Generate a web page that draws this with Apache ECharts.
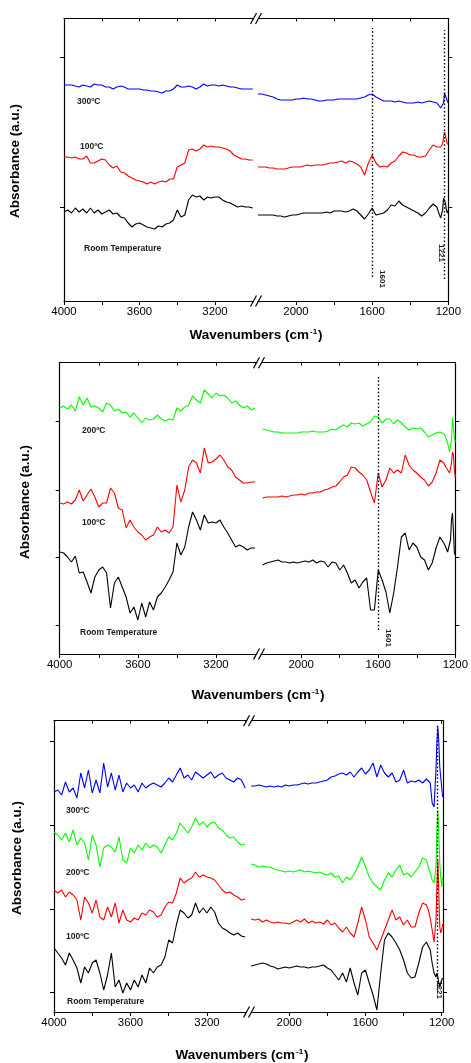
<!DOCTYPE html>
<html><head><meta charset="utf-8">
<script src="https://cdn.jsdelivr.net/npm/echarts@6/dist/echarts.min.js"></script>
<style>html,body{margin:0;padding:0;background:#fff}#c{width:471px;height:1063px}</style>
</head><body><div id="c"></div>
<script>
// ---------- wavenumber grids (cm-1) ----------
const wnLeft = [4000,3980,3960,3940,3920,3900,3880,3860,3840,3820,3800,3780,3760,3740,3720,3700,3680,3660,3640,3620,3600,3580,3560,3540,3520,3500,3480,3460,3440,3420,3400,3380,3360,3340,3320,3300,3280,3260,3240,3220,3200,3180,3160,3140,3120,3100,3080,3060,3040,3020,3000];
const wnRight = [2200,2180,2160,2140,2120,2100,2080,2060,2040,2020,2000,1980,1960,1940,1920,1900,1880,1860,1840,1820,1800,1780,1760,1740,1720,1700,1680,1660,1640,1620,1600,1580,1560,1540,1520,1500,1480,1460,1440,1420,1400,1380,1360,1340,1320,1300,1280,1270,1260,1250,1240,1230,1225,1220,1215,1210,1205,1200];
const wnRight3 = [2200,2180,2160,2140,2120,2100,2080,2060,2040,2020,2000,1980,1960,1940,1920,1900,1880,1860,1840,1820,1800,1780,1760,1740,1720,1700,1680,1660,1640,1620,1600,1580,1560,1540,1520,1500,1480,1460,1440,1420,1400,1380,1360,1340,1320,1300,1280,1270,1260,1250,1240,1230,1225,1220,1215,1210,1205,1200,1195];

// ---------- tick labels ----------
const leftTicks = [4000,3800,3600,3400,3200,3000];
const leftLabels = [4000,3600,3200];
const rightTicks = [2000,1800,1600,1400,1200];
const rightLabels = [2000,1600,1200];

// ---------- Panel 1 (absorbance, a.u.) ----------
const p1BlueL = [2.16,2.16,2.16,2.15,2.14,2.16,2.15,2.14,2.17,2.16, 2.16,2.14,2.14,2.12,2.14,2.15,2.14,2.12,2.12,2.12, 2.12,2.11,2.11,2.10,2.10,2.09,2.08,2.10,2.10,2.12, 2.16,2.14,2.14,2.15,2.14,2.12,2.14,2.17,2.15,2.16, 2.16,2.15,2.16,2.15,2.14,2.14,2.13,2.12,2.12,2.12,2.12];
const p1RedL = [1.44,1.44,1.43,1.44,1.42,1.42,1.45,1.38,1.38,1.40, 1.42,1.41,1.36,1.33,1.35,1.29,1.28,1.25,1.23,1.21, 1.20,1.19,1.17,1.19,1.17,1.19,1.20,1.19,1.22,1.22, 1.34,1.36,1.38,1.51,1.52,1.50,1.52,1.56,1.54,1.55, 1.54,1.54,1.53,1.52,1.50,1.46,1.44,1.42,1.42,1.41,1.41];
const p1BlackL = [0.89,0.91,0.88,0.93,0.89,0.92,0.88,0.93,0.88,0.91, 0.87,0.89,0.91,0.87,0.88,0.84,0.83,0.78,0.74,0.77, 0.78,0.76,0.74,0.73,0.72,0.75,0.74,0.77,0.78,0.81, 0.91,0.84,0.86,1.01,1.06,1.04,1.05,1.01,1.04,1.03, 1.04,1.04,1.01,0.99,0.98,0.96,0.94,0.95,0.94,0.94,0.93];
const p1BlueR = [2.07,2.07,2.06,2.05,2.04,2.02,2.01,2.01,2.01,2.01, 2.02,2.02,2.03,2.02,2.02,2.01,2.00,2.00,2.01,2.01, 2.01,2.02,2.02,2.02,2.02,2.02,2.02,2.03,2.04,2.06, 2.07,2.04,2.02,2.00,2.00,2.00,1.99,2.00,1.99,1.98, 1.98,1.98,1.99,1.98,1.99,2.00,1.99, 1.99,1.98,1.98,1.93,1.92,1.98,2.08,2.09,2.06,2.00,1.98];
const p1RedR = [1.34,1.34,1.34,1.33,1.33,1.32,1.32,1.32,1.33,1.34, 1.34,1.34,1.35,1.36,1.35,1.36,1.36,1.36,1.37,1.38, 1.38,1.39,1.40,1.38,1.40,1.39,1.37,1.34,1.26,1.38, 1.46,1.38,1.34,1.35,1.34,1.38,1.40,1.45,1.49,1.48, 1.46,1.46,1.44,1.44,1.45,1.51,1.56, 1.56,1.54,1.55,1.54,1.57,1.64,1.69,1.67,1.61,1.57,1.57];
const p1BlackR = [0.86,0.86,0.86,0.86,0.86,0.85,0.85,0.84,0.85,0.86, 0.86,0.87,0.88,0.88,0.88,0.88,0.88,0.88,0.89,0.88, 0.90,0.90,0.90,0.89,0.90,0.92,0.90,0.86,0.82,0.87, 0.93,0.86,0.87,0.88,0.91,0.96,0.95,1.00,0.96,0.94, 0.92,0.90,0.88,0.85,0.88,0.93,0.97, 0.97,0.94,0.88,0.83,0.91,1.03,1.04,0.98,0.91,0.88,0.91];

// ---------- Panel 2 ----------
const p2GreenL = [2.46,2.48,2.45,2.49,2.43,2.57,2.49,2.56,2.47,2.48, 2.46,2.42,2.51,2.49,2.43,2.45,2.41,2.42,2.37,2.41, 2.36,2.31,2.36,2.34,2.35,2.39,2.35,2.33,2.35,2.34, 2.46,2.43,2.47,2.49,2.58,2.54,2.51,2.64,2.60,2.56, 2.61,2.58,2.59,2.56,2.51,2.53,2.49,2.46,2.48,2.44,2.46];
const p2RedL = [1.51,1.50,1.52,1.50,1.54,1.64,1.53,1.59,1.65,1.57, 1.47,1.51,1.51,1.66,1.61,1.46,1.44,1.26,1.34,1.27, 1.22,1.19,1.14,1.17,1.19,1.27,1.22,1.24,1.21,1.27, 1.69,1.52,1.64,1.87,1.94,1.91,1.81,2.06,1.91,1.92, 1.95,1.99,1.94,1.87,1.84,1.77,1.74,1.71,1.71,1.72,1.72];
const p2BlackL = [1.02,1.01,0.97,0.92,0.98,0.81,0.82,0.72,0.61,0.77, 0.84,0.87,0.81,0.46,0.71,0.77,0.67,0.57,0.41,0.47, 0.34,0.51,0.37,0.52,0.44,0.57,0.61,0.67,0.74,0.82, 1.11,0.99,1.07,1.27,1.42,1.34,1.24,1.39,1.31,1.32, 1.31,1.34,1.27,1.21,1.14,1.07,1.09,1.07,1.04,1.06,1.06];
const p2GreenR = [2.25,2.24,2.23,2.22,2.22,2.21,2.21,2.21,2.21,2.21, 2.22,2.22,2.22,2.23,2.22,2.22,2.22,2.23,2.25,2.24, 2.27,2.29,2.27,2.31,2.30,2.31,2.28,2.30,2.32,2.38, 2.37,2.31,2.35,2.35,2.30,2.34,2.31,2.27,2.24,2.26, 2.25,2.26,2.22,2.17,2.19,2.21,2.22, 2.21,2.20,2.17,2.11,2.02,2.04,2.14,2.36,2.34,2.16,2.12];
const p2RedR = [1.56,1.57,1.57,1.57,1.57,1.58,1.57,1.58,1.59,1.59, 1.60,1.59,1.61,1.61,1.62,1.62,1.64,1.65,1.67,1.68, 1.72,1.77,1.79,1.87,1.86,1.82,1.79,1.74,1.62,1.51, 1.81,1.67,1.74,1.86,1.81,1.84,1.81,1.99,1.89,1.84, 1.81,1.77,1.74,1.68,1.72,1.81,1.94, 1.95,1.91,1.87,1.86,1.81,1.81,1.91,2.02,1.99,1.84,1.77];
const p2BlackR = [0.89,0.91,0.92,0.93,0.94,0.92,0.92,0.91,0.92,0.91, 0.92,0.93,0.92,0.94,0.91,0.93,0.92,0.87,0.92,0.91, 0.84,0.89,0.81,0.71,0.74,0.66,0.72,0.76,0.44,0.44, 0.84,0.74,0.62,0.41,0.61,0.87,1.17,1.21,1.04,1.11, 1.07,0.97,0.94,0.84,0.91,1.06,1.17, 1.14,1.11,1.07,1.02,1.01,1.14,1.34,1.41,1.24,1.01,0.99];

// ---------- Panel 3 ----------
const p3BlueL = [2.20,2.22,2.17,2.30,2.20,2.24,2.14,2.39,2.24,2.42, 2.19,2.32,2.19,2.49,2.25,2.39,2.22,2.37,2.20,2.29, 2.24,2.27,2.20,2.29,2.24,2.27,2.29,2.27,2.25,2.29, 2.34,2.30,2.37,2.44,2.34,2.37,2.32,2.40,2.37,2.34, 2.37,2.40,2.34,2.37,2.39,2.34,2.32,2.30,2.34,2.32,2.24];
const p3GreenL = [1.80,1.77,1.72,1.79,1.70,1.82,1.67,1.74,1.69,1.52, 1.77,1.67,1.45,1.64,1.67,1.65,1.60,1.75,1.52,1.49, 1.64,1.59,1.67,1.62,1.69,1.64,1.67,1.65,1.59,1.67, 1.75,1.72,1.79,1.89,1.84,1.79,1.85,1.94,1.87,1.90, 1.85,1.89,1.90,1.84,1.82,1.77,1.74,1.75,1.70,1.67,1.68];
const p3RedL = [1.22,1.19,1.22,1.15,1.20,1.17,1.12,0.92,1.15,1.09, 0.99,1.12,0.95,0.92,1.05,0.95,1.09,0.89,1.02,0.92, 0.90,0.94,0.92,0.99,0.97,1.02,1.00,0.95,0.97,1.05, 1.10,1.09,1.19,1.34,1.29,1.32,1.34,1.40,1.35,1.37, 1.35,1.34,1.32,1.27,1.22,1.19,1.20,1.17,1.15,1.12,1.13];
const p3BlackL = [0.64,0.59,0.54,0.47,0.59,0.52,0.44,0.29,0.45,0.39, 0.49,0.52,0.39,0.22,0.37,0.59,0.25,0.32,0.19,0.29, 0.22,0.32,0.25,0.37,0.29,0.44,0.39,0.45,0.47,0.55, 0.72,0.69,0.87,1.02,0.99,0.94,0.97,1.09,0.99,1.04, 0.99,1.05,1.00,0.89,0.84,0.82,0.79,0.77,0.79,0.76,0.75];
const p3BlueR = [2.26,2.26,2.27,2.26,2.25,2.26,2.25,2.26,2.25,2.27, 2.26,2.27,2.27,2.28,2.29,2.28,2.29,2.29,2.30,2.31, 2.32,2.35,2.36,2.38,2.39,2.37,2.40,2.35,2.40,2.44, 2.38,2.42,2.49,2.35,2.47,2.39,2.35,2.39,2.30,2.32, 2.42,2.29,2.31,2.30,2.32,2.29,2.33, 2.34,2.29,2.09,2.05,2.42,2.70,2.85,2.70,2.45,2.35,2.25,2.15];
const p3GreenR = [1.48,1.47,1.45,1.46,1.45,1.45,1.43,1.42,1.41,1.40, 1.41,1.40,1.41,1.42,1.40,1.41,1.40,1.39,1.40,1.38, 1.37,1.39,1.35,1.36,1.29,1.35,1.32,1.38,1.45,1.55, 1.45,1.35,1.29,1.25,1.22,1.32,1.39,1.35,1.42,1.47, 1.37,1.39,1.35,1.40,1.45,1.54,1.52, 1.45,1.39,1.32,1.29,1.45,1.82,2.02,1.79,1.49,1.35,1.25,1.35];
const p3RedR = [0.93,0.92,0.93,0.90,0.92,0.90,0.89,0.90,0.89,0.89, 0.88,0.90,0.92,0.90,0.93,0.89,0.91,0.89,0.90,0.88, 0.92,0.87,0.89,0.84,0.80,0.85,0.79,0.75,0.89,1.05, 0.92,0.75,0.69,0.62,0.72,0.82,0.92,1.02,0.92,0.95, 0.87,0.92,0.85,0.85,0.99,1.09,1.07, 1.02,0.94,0.82,0.70,0.92,1.25,1.52,1.19,0.85,0.79,0.82,0.88];
const p3BlackR = [0.46,0.47,0.48,0.49,0.48,0.46,0.45,0.43,0.44,0.45, 0.44,0.45,0.46,0.45,0.45,0.44,0.45,0.45,0.46,0.47, 0.44,0.42,0.37,0.32,0.39,0.30,0.44,0.29,0.17,0.39, 0.42,0.29,0.17,0.02,0.39,0.72,0.79,0.75,0.69,0.62, 0.52,0.39,0.34,0.35,0.49,0.65,0.70, 0.69,0.62,0.49,0.39,0.35,0.39,0.35,0.29,0.25,0.27,0.32,0.34];

const BLUE = '#0000ff', RED = '#ff0000', GREEN = '#00ff00', BLACK = '#000000';
const FONT = '"Liberation Sans", Arial, Helvetica, sans-serif';

const panels = [
  { top: 18.5, height: 282.5, lLeft: 64, lWidth: 193, rLeft: 257, rWidth: 191.3,
    lMin: 2977.5, rMax: 2205, rMin: 1200, yMax: 2.825, yTicks: [0.94, 2.44], wnR: wnRight,
    series: [
      { name: '300ºC', color: BLUE, L: p1BlueL, R: p1BlueR, lab: [3931, 1.99] },
      { name: '100ºC', color: RED, L: p1RedL, R: p1RedR, lab: [3915, 1.545] },
      { name: 'Room Temperature', color: BLACK, L: p1BlackL, R: p1BlackR, lab: [3894, 0.52] }
    ],
    marks: [ { w: 1601, y0: 0.24, y1: 2.73, text: '1601', lab: [1548, 0.22] },
             { w: 1221, y0: 0.22, y1: 2.71, text: '1221', lab: [1238, 0.48] } ],
    breakX: 256, xTitle: [256, 335], yTitle: [15, 161] },
  { top: 362.7, height: 291.3, lLeft: 59.7, lWidth: 198.3, rLeft: 258, rWidth: 199.7,
    lMin: 2985, rMax: 2224, rMin: 1200, yMax: 2.913, yTicks: [0.283, 0.97, 1.64, 2.33], wnR: wnRight,
    series: [
      { name: '200ºC', color: GREEN, L: p2GreenL, R: p2GreenR, lab: [3886, 2.233] },
      { name: '100ºC', color: RED, L: p2RedL, R: p2RedR, lab: [3886, 1.31] },
      { name: 'Room Temperature', color: BLACK, L: p2BlackL, R: p2BlackR, lab: [3896, 0.21] }
    ],
    marks: [ { w: 1601, y0: 0.24, y1: 2.79, text: '1601', lab: [1547, 0.16] } ],
    breakX: 259, xTitle: [258, 695], yTitle: [25, 502] },
  { top: 720.7, height: 291.3, lLeft: 54, lWidth: 193.5, rLeft: 247.5, rWidth: 195.5,
    lMin: 2988, rMax: 2219, rMin: 1193, yMax: 2.913, yTicks: [0.20, 1.03, 1.87, 2.703], wnR: wnRight3,
    series: [
      { name: '300ºC', color: BLUE, L: p3BlueL, R: p3BlueR, lab: [3937, 2.013] },
      { name: '200ºC', color: GREEN, L: p3GreenL, R: p3GreenR, lab: [3937, 1.39] },
      { name: '100ºC', color: RED, L: p3RedL, R: p3RedR, lab: [3937, 0.753] },
      { name: 'Room Temperature', color: BLACK, L: p3BlackL, R: p3BlackR, lab: [3932, 0.103] }
    ],
    marks: [ { w: 1221, y0: 0.22, y1: 2.88, text: '1221', lab: [1214, 0.22] } ],
    breakX: 249, xTitle: [242, 1055], yTitle: [17, 858] }
];

function zip(x, y) { const n = Math.min(x.length, y.length); const out = []; for (let i = 0; i < n; i++) out.push([x[i], y[i]]); return out; }

const grid = [], xAxis = [], yAxis = [], series = [], graphic = [];
const lineCol = '#000';

panels.forEach((p, pi) => {
  const gL = grid.length;
  grid.push({ left: p.lLeft, top: p.top, width: p.lWidth, height: p.height });
  grid.push({ left: p.rLeft, top: p.top, width: p.rWidth, height: p.height });
  const mkX = (gi, min, max, ticks, labels, pos) => ({
    type: 'value', gridIndex: gi, min: min, max: max, inverse: true, position: pos,
    splitLine: { show: false },
    axisLine: { show: true, onZero: false, lineStyle: { color: lineCol, width: 1.2 } },
    axisTick: { show: true, inside: pos === 'top', length: pos === 'top' ? 3 : 4, customValues: ticks, lineStyle: { color: lineCol, width: 1 } },
    axisLabel: { show: pos !== 'top', customValues: labels, formatter: v => String(v), color: '#000', fontSize: 11.4, fontFamily: FONT, margin: 5 }
  });
  const xi = xAxis.length;
  xAxis.push(mkX(gL, p.lMin, 4000, leftTicks, leftLabels, 'bottom'));
  xAxis.push(mkX(gL, p.lMin, 4000, leftTicks, leftLabels, 'top'));
  xAxis.push(mkX(gL + 1, p.rMin, p.rMax, rightTicks, rightLabels, 'bottom'));
  xAxis.push(mkX(gL + 1, p.rMin, p.rMax, rightTicks, rightLabels, 'top'));
  const mkY = (gi, pos) => ({
    type: 'value', gridIndex: gi, min: 0, max: p.yMax, position: pos,
    splitLine: { show: false },
    axisLine: { show: true, onZero: false, lineStyle: { color: lineCol, width: 1.2 } },
    axisTick: { show: true, inside: false, length: 4, customValues: p.yTicks, lineStyle: { color: lineCol, width: 1 } },
    axisLabel: { show: false }
  });
  const yi = yAxis.length;
  yAxis.push(mkY(gL, 'left'));
  yAxis.push(mkY(gL + 1, 'right'));

  p.series.forEach((s, si) => {
    series.push({
      type: 'line', name: s.name, xAxisIndex: xi, yAxisIndex: yi,
      data: zip(wnLeft, s.L), showSymbol: false, symbol: 'none', clip: true,
      lineStyle: { color: s.color, width: 1.1 }, itemStyle: { color: s.color },
      z: 2 + si, silent: true,
      markPoint: {
        symbol: 'circle', symbolSize: 0, silent: true, animation: false,
        itemStyle: { color: 'transparent' },
        label: { show: true, position: 'right', distance: 0, color: '#1a1a1a', fontSize: 8.5, fontWeight: 'bold', fontFamily: FONT },
        data: [{ coord: s.lab, label: { formatter: s.name } }]
      }
    });
    const rs = {
      type: 'line', name: s.name, xAxisIndex: xi + 2, yAxisIndex: yi + 1,
      data: zip(p.wnR, s.R), showSymbol: false, symbol: 'none', clip: true,
      lineStyle: { color: s.color, width: 1.1 }, itemStyle: { color: s.color },
      z: 2 + si, silent: true
    };
    if (si === p.series.length - 1) {
      rs.markLine = {
        silent: true, animation: false, symbol: ['none', 'none'],
        lineStyle: { color: '#000', width: 1.4, type: [1.5, 2.2] },
        label: { show: false },
        data: p.marks.map(m => [{ coord: [m.w, m.y0] }, { coord: [m.w, m.y1] }])
      };
      rs.markPoint = {
        symbol: 'circle', symbolSize: 0, silent: true, animation: false,
        itemStyle: { color: 'transparent' },
        label: { show: true, position: 'inside', color: '#1a1a1a', fontSize: 8, fontWeight: 'bold', fontFamily: FONT, rotate: -90 },
        data: p.marks.map(m => ({ coord: m.lab, label: { formatter: m.text } }))
      };
    }
    series.push(rs);
  });

  // axis break marks
  [p.top, p.top + p.height].forEach(y => {
    const cx = p.breakX;
    graphic.push({ type: 'polygon', z: 100, silent: true,
      shape: { points: [[cx - 5, y + 5.5], [cx + 1, y - 5.5], [cx + 5, y - 5.5], [cx - 1, y + 5.5]] },
      style: { fill: '#fff' } });
    graphic.push({ type: 'line', z: 101, silent: true,
      shape: { x1: cx - 5.5, y1: y + 5.5, x2: cx + 0.5, y2: y - 5.5 }, style: { stroke: '#000', lineWidth: 1.2 } });
    graphic.push({ type: 'line', z: 101, silent: true,
      shape: { x1: cx - 0.5, y1: y + 5.5, x2: cx + 5.5, y2: y - 5.5 }, style: { stroke: '#000', lineWidth: 1.2 } });
  });
  // axis titles
  graphic.push({ type: 'text', z: 100, silent: true, x: p.xTitle[0], y: p.xTitle[1],
    style: { text: 'Wavenumbers (cm{sup|-1})', font: 'bold 13.5px ' + FONT, fill: '#000', align: 'center', verticalAlign: 'middle',
      rich: { sup: { font: 'bold 8px ' + FONT, fill: '#000', verticalAlign: 'top', padding: [0, 1, 6, 1] } } } });
  graphic.push({ type: 'text', z: 100, silent: true, x: p.yTitle[0], y: p.yTitle[1], rotation: Math.PI / 2,
    style: { text: 'Absorbance (a.u.)', font: 'bold 13.5px ' + FONT, fill: '#000', align: 'center', verticalAlign: 'middle' } });
});

const chart = echarts.init(document.getElementById('c'), null, { renderer: 'canvas' });
chart.setOption({
  animation: false,
  backgroundColor: '#fff',
  textStyle: { fontFamily: FONT },
  grid: grid, xAxis: xAxis, yAxis: yAxis, series: series, graphic: graphic
});
</script>
</body></html>
